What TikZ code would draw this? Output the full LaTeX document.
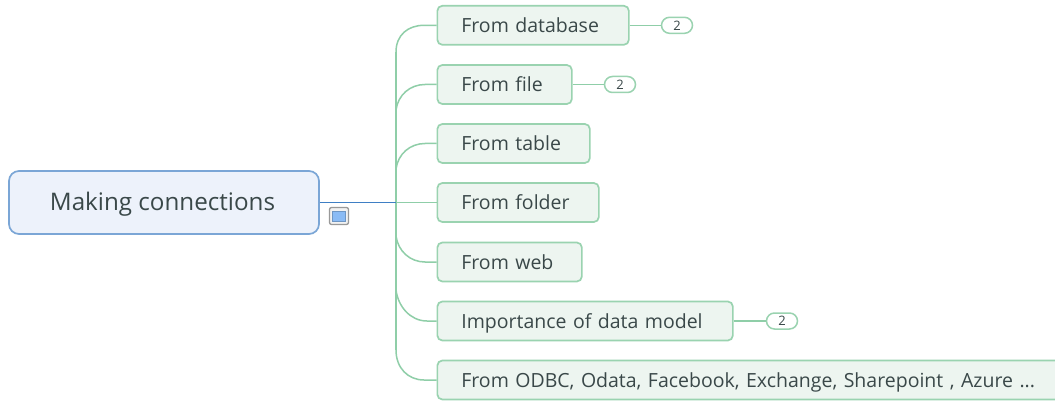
\documentclass[tikz,border=0pt]{standalone}
\usepackage{fontspec}
\setmainfont{Open Sans}
\definecolor{gline}{HTML}{8FCEA8}
\definecolor{gborder}{HTML}{9AD3B0}
\definecolor{gfill}{HTML}{EDF5F0}
\definecolor{bborder}{HTML}{7BA6D6}
\definecolor{bfill}{HTML}{EDF2FB}
\definecolor{bline}{HTML}{3F7FC4}
\definecolor{ink}{HTML}{3A4849}
\definecolor{notefill}{HTML}{8ABBF5}
\tikzset{
  topicbox/.style={draw=gborder,fill=gfill,line width=1.7pt,rounded corners=5pt,anchor=west,
    minimum height=39pt,inner xsep=0pt,inner ysep=0pt,align=left,text=ink,
    text height=14pt,text depth=0pt,
    font=\fontsize{19.5}{23}\selectfont},
  rootbox/.style={draw=bborder,fill=bfill,line width=1.7pt,rounded corners=10pt,
    minimum width=310pt,minimum height=63pt,text=ink,text height=17pt,text depth=0pt,
    font=\fontsize{24.2}{29}\selectfont},
  badge/.style={draw=gborder,fill=white,line width=1.5pt,rounded corners=8pt,
    minimum width=31pt,minimum height=16pt,inner sep=0pt,text=ink,font=\fontsize{13}{14}\selectfont},
  conn/.style={draw=gline,line width=1.5pt},
  noteicon/.style={draw=black!40,fill=black!5,line width=1.3pt,rounded corners=2pt,minimum width=19pt,minimum height=17pt,inner sep=0pt},
  noteinner/.style={draw=notefill!80!black,fill=notefill,line width=.5pt,minimum width=13pt,minimum height=10pt,inner sep=0pt},
}
\begin{document}
\begin{tikzpicture}[x=1pt,y=-1pt]
\useasboundingbox (0,0) rectangle (1055,401);
\clip (0,0) rectangle (1055,401);
\fill[white] (0,0) rectangle (1055,401);
\coordinate (trunk) at (396,202.5);
\coordinate (bdb) at (396,52);
\coordinate (bfile) at (396,110);
\coordinate (btable) at (396,169);
\coordinate (bweb) at (396,236);
\coordinate (bimp) at (396,290);
\coordinate (bodbc) at (396,350);
\node[rootbox] (root) at (164,202.5) {Making connections\kern3pt};
\node[noteicon] (note) at (339,216) {};
\node[noteinner] (notein) at (339,216) {};
\node[topicbox,minimum width=191.5pt,text width=143.5pt] (db) at (436.5,25.3) {From database};
\node[topicbox,minimum width=134.5pt,text width=86.5pt] (file) at (436.5,84.5) {From file};
\node[topicbox,minimum width=152.5pt,text width=104.5pt] (table) at (436.5,143.5) {From table};
\node[topicbox,minimum width=161.5pt,text width=113.5pt] (folder) at (436.5,202.5) {From folder};
\node[topicbox,minimum width=144.5pt,text width=96.5pt] (web) at (436.5,262) {From web};
\node[topicbox,minimum width=295.5pt,text width=247.5pt] (imp) at (436.5,321) {Importance of data model};
\node[topicbox,minimum width=640pt,text width=592pt] (odbc) at (436.5,380) {From ODBC, Odata, Facebook, Exchange, Sharepoint , Azure ...};
\node[badge] (bd1) at (677,25.3) {2};
\node[badge] (bd2) at (620,84.5) {2};
\node[badge] (bd3) at (782,321) {2};
\draw[conn] (bdb) -- (bodbc);
\draw[conn] (bdb) .. controls (396,35) and (408,25.3) .. (424,25.3) -- (db.west);
\draw[conn] (bfile) .. controls (398,95) and (410,84.5) .. (425,84.5) -- (file.west);
\draw[conn] (btable) .. controls (398,154) and (410,143.5) .. (425,143.5) -- (table.west);
\draw[conn] (trunk) -- (folder.west);
\draw[conn] (bweb) .. controls (398,251) and (410,262) .. (425,262) -- (web.west);
\draw[conn] (bimp) .. controls (398,306) and (410,321) .. (427,321) -- (imp.west);
\draw[conn] (bodbc) .. controls (396,368) and (408,380) .. (424,380) -- (odbc.west);
\draw[draw=bline,line width=1.3pt] (root.east) -- (trunk);
\draw[conn] (db.east) -- (bd1.west);
\draw[conn] (file.east) -- (bd2.west);
\draw[conn] (imp.east) -- (bd3.west);
\end{tikzpicture}
\end{document}
